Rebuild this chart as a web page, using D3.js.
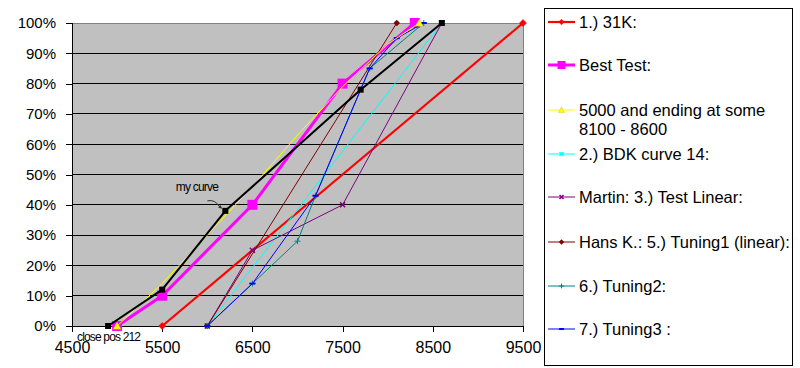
<!DOCTYPE html>
<html><head><meta charset="utf-8">
<script src="https://cdn.jsdelivr.net/npm/d3@7"></script>
<style>
body{margin:0;background:#fff;}
svg{display:block;font-family:"Liberation Sans",Arial,sans-serif;}
</style></head>
<body><svg id="c" width="800" height="368"></svg>
<script>
// ---- data ----
const xTicks = [4500, 5500, 6500, 7500, 8500, 9500];
const yTicks = [0, 0.1, 0.2, 0.3, 0.4, 0.5, 0.6, 0.7, 0.8, 0.9, 1.0];

const names = ["1.) 31K:", "Best Test:", "5000 and ending at some\n8100 - 8600",
  "2.) BDK curve 14:", "Martin: 3.) Test Linear:", "Hans K.: 5.) Tuning1 (linear):",
  "6.) Tuning2:", "7.) Tuning3 :"];

const k31_x = [5500, 9500];
const k31_y = [0, 1.0];
const best_x = [5000, 5500, 6500, 7500, 8300];
const best_y = [0, 0.10, 0.40, 0.80, 1.00];
const yel_x = [5000, 5500, 6000, 6500, 7000, 7500, 8000, 8350];
const yel_y = [0, 0.14, 0.30, 0.46, 0.63, 0.79, 0.93, 1.00];
const bdk_x = [6000, 8600];
const bdk_y = [0, 1.0];
const martin_x = [6000, 6500, 7500, 8600];
const martin_y = [0, 0.25, 0.40, 1.0];
const hans_x = [6000, 8100];
const hans_y = [0, 1.0];
const tun2_x = [6000, 6500, 7000, 7200, 7800, 8400];
const tun2_y = [0, 0.14, 0.28, 0.43, 0.85, 1.0];
const tun3_x = [6000, 6500, 7200, 7800, 8100, 8400];
const tun3_y = [0, 0.14, 0.43, 0.85, 0.95, 1.0];
const my_x = [4900, 5500, 6200, 7700, 8600];
const my_y = [0, 0.12, 0.38, 0.78, 1.0];

const annMyCurve = "my curve";
const annClose = "close pos 212";

// ---- styles ----
const series = [
  {name:names[0], xs:k31_x, ys:k31_y, color:"#FF0000", w:2.2, m:"diamond", ms:3.5},
  {name:names[1], xs:best_x, ys:best_y, color:"#FF00FF", w:3, m:"square", ms:5},
  {name:names[3], xs:bdk_x, ys:bdk_y, color:"#00FFFF", w:1, m:"star", ms:2.5},
  {name:names[4], xs:martin_x, ys:martin_y, color:"#800080", w:1, m:"xbox", ms:2.5},
  {name:names[5], xs:hans_x, ys:hans_y, color:"#800000", w:1, m:"diamond", ms:3},
  {name:names[6], xs:tun2_x, ys:tun2_y, color:"#008080", w:1, m:"plus", ms:3},
  {name:names[7], xs:tun3_x, ys:tun3_y, color:"#0000FF", w:1, m:"dash", ms:3},
  {name:names[2], xs:yel_x, ys:yel_y, color:"#FFFF00", w:1, m:"triangle", ms:4, endsOnly:true},
  {name:null, xs:my_x, ys:my_y, color:"#000000", w:2, m:"square", ms:3}
];
const legendOrder = [0,1,7,2,3,4,5,6];

const svg = d3.select("#c");
const L=72, R=523, T=23, B=326;
const x = d3.scaleLinear().domain([4500, 9500]).range([L, R]);
const y = d3.scaleLinear().domain([0, 1]).range([B, T]);

// plot background
svg.append("rect").attr("x", L).attr("y", T).attr("width", R-L).attr("height", B-T).attr("fill", "#C0C0C0");

// gridlines
svg.append("g").selectAll("line").data(yTicks.filter(d=>d>0)).join("line")
  .attr("x1", L).attr("x2", R).attr("y1", d=>y(d)).attr("y2", d=>y(d))
  .attr("stroke", d=> d===1 ? "#808080" : "#000").attr("stroke-width", 1).attr("shape-rendering","crispEdges");
// right border
svg.append("line").attr("x1", R).attr("x2", R).attr("y1", T).attr("y2", B).attr("stroke", "#808080").attr("shape-rendering","crispEdges");

// axes
const yAxis = d3.axisLeft(y).tickValues(yTicks).tickFormat(d3.format(".0%")).tickSize(6).tickPadding(10);
const gy = svg.append("g").attr("transform", `translate(${L},0)`).call(yAxis);
gy.selectAll("text").attr("font-size", 15).attr("font-family", "Liberation Sans, Arial, sans-serif").attr("fill","#000");
gy.selectAll("line,path").attr("stroke", "#000").attr("shape-rendering","crispEdges");
gy.select(".domain").attr("d", `M-6,${T}H0V${B}`);

const xAxis = d3.axisBottom(x).tickValues(xTicks).tickFormat(d3.format("d")).tickSize(6).tickPadding(10);
const gx = svg.append("g").attr("transform", `translate(0,${B})`).call(xAxis);
gx.selectAll("text").attr("font-size", 16).attr("font-family", "Liberation Sans, Arial, sans-serif").attr("fill","#000");
gx.selectAll("line,path").attr("stroke", "#000").attr("shape-rendering","crispEdges");
gx.select(".domain").attr("d", `M${L},0H${R}`);

// marker drawer
function marker(g, type, cx, cy, s, color){
  switch(type){
    case "diamond":
      g.append("path").attr("d", `M${cx},${cy-s}L${cx+s},${cy}L${cx},${cy+s}L${cx-s},${cy}Z`).attr("fill", color).attr("stroke", color).attr("stroke-width",0.5); break;
    case "square":
      g.append("rect").attr("x", cx-s).attr("y", cy-s).attr("width", 2*s).attr("height", 2*s).attr("fill", color); break;
    case "triangle":
      g.append("path").attr("d", `M${cx},${cy-s}L${cx+s},${cy+s*0.8}L${cx-s},${cy+s*0.8}Z`).attr("fill", color).attr("stroke", "#C0A000").attr("stroke-width",0.3); break;
    case "star":
      g.append("path").attr("d", `M${cx-s},${cy-s}L${cx+s},${cy+s}M${cx-s},${cy+s}L${cx+s},${cy-s}M${cx-s},${cy}L${cx+s},${cy}`).attr("stroke", color).attr("stroke-width",1.2).attr("fill","none"); break;
    case "xbox":
      g.append("path").attr("d", `M${cx-s},${cy-s}L${cx+s},${cy+s}M${cx-s},${cy+s}L${cx+s},${cy-s}`).attr("stroke", color).attr("stroke-width",1.5).attr("fill","none"); break;
    case "plus":
      g.append("path").attr("d", `M${cx-s},${cy}L${cx+s},${cy}M${cx},${cy-s}L${cx},${cy+s}`).attr("stroke", color).attr("stroke-width",1).attr("fill","none"); break;
    case "dash":
      g.append("path").attr("d", `M${cx-s},${cy}L${cx+s},${cy}`).attr("stroke", color).attr("stroke-width",2).attr("fill","none"); break;
  }
}

// series
const line = d3.line().x(d=>x(d[0])).y(d=>y(d[1]));
series.forEach(s=>{
  const pts = s.xs.map((v,i)=>[v, s.ys[i]]);
  const g = svg.append("g");
  g.append("path").attr("d", line(pts)).attr("fill","none").attr("stroke", s.color).attr("stroke-width", s.w).attr("stroke-linejoin","round");
  pts.forEach((p,i)=>{
    if (s.endsOnly && i>0 && i<pts.length-1) return;
    marker(g, s.m, x(p[0]), y(p[1]), s.ms, s.color);
  });
});

// annotations
const mc = [my_x[2], my_y[2]];
svg.append("text").attr("x", x(mc[0]) - 28).attr("y", y(mc[1]) - 20).attr("text-anchor","middle")
  .attr("font-size", 12).attr("textLength", 43).attr("fill","#000").text(annMyCurve);
const ax0 = x(mc[0]) - 18, ay0 = y(mc[1]) - 10;
svg.append("path").attr("d", `M${ax0},${ay0} Q${ax0+8},${ay0-2} ${x(mc[0])-5},${y(mc[1])-3}`)
  .attr("fill","none").attr("stroke","#333").attr("stroke-width",1);
svg.append("path").attr("d", `M${x(mc[0])-3},${y(mc[1])-2} l-4,-1 l2,-3 Z`).attr("fill","#333");
svg.append("text").attr("x", 77).attr("y", 340.5).attr("font-size", 12).attr("textLength", 64).attr("fill","#000").text(annClose);

// legend
const lg = svg.append("g");
lg.append("rect").attr("x", 544.5).attr("y", 8.5).attr("width", 248).attr("height", 357).attr("fill","#fff").attr("stroke","#000").attr("stroke-width",1);
const rowY = [22, 65, 110, 154, 197, 242, 286, 329];
legendOrder.forEach((si, r)=>{
  const s = series[si];
  const cy = rowY[r];
  lg.append("line").attr("x1", 548).attr("x2", 575).attr("y1", cy).attr("y2", cy).attr("stroke", s.color).attr("stroke-width", s.w);
  marker(lg, s.m, 561.5, cy, s.m==="square" ? 4 : s.ms*0.8, s.color);
  const lines = s.name.split("\n");
  const t = lg.append("text").attr("x", 579).attr("y", cy + 6).attr("font-size", 16.5).attr("fill","#000");
  lines.forEach((ln, j)=> t.append("tspan").attr("x", 579).attr("dy", j===0?0:18.5).text(ln));
});
</script></body></html>
